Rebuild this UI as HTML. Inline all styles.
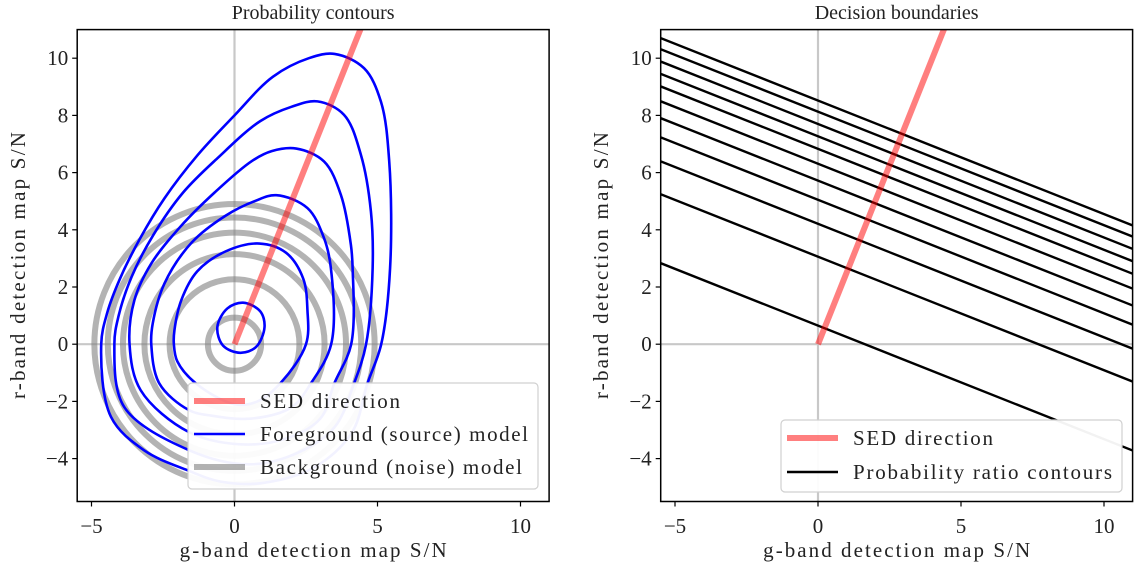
<!DOCTYPE html>
<html><head><meta charset="utf-8"><style>
html,body{margin:0;padding:0;background:#fff}
svg{display:block}
text{font-family:"Liberation Serif",serif;fill:#222}
</style></head><body>
<svg id="fig" width="1135" height="570" xmlns="http://www.w3.org/2000/svg">
<defs>
<clipPath id="clipL"><rect x="78" y="29" width="471" height="472"/></clipPath>
<clipPath id="clipR"><rect x="661" y="29" width="471" height="472"/></clipPath>
</defs>
<g id="left"></g>
<g id="right"></g>
</svg>
<script>
// ---- data ----
const xTicks = [-5, 0, 5, 10];
const yTicks = [-4, -2, 0, 2, 4, 6, 8, 10];
const sedDir = [1, 2.5];
const noiseRadii = [0.93, 2.27, 3.15, 3.9, 4.43, 4.9];
const fgContour1 = [[0.3,1.45],[0.9,1.15],[1.05,0.6],[0.75,-0.1],[0.2,-0.3],[-0.4,-0.05],[-0.6,0.6],[-0.25,1.25]];
const fgContour2 = [[0.87,3.52],[1.8,3.2],[2.4,2.3],[2.55,1.2],[2.5,0],[1.6,-1.37],[0.8,-2.0],[0,-2.1],[-1.35,-1.37],[-2.0,-0.6],[-2.12,0],[-2.1,0.49],[-1.86,1.54],[-1.3,2.55],[-0.3,3.25]];
const fgContour3 = [[1.46,5.21],[2.55,4.76],[3.13,3.71],[3.37,2.66],[3.38,0],[2.67,-1.37],[2.0,-2.2],[0.6,-2.6],[-0.8,-2.5],[-1.6,-2.3],[-2.63,-1.37],[-2.91,0],[-2.86,0.72],[-2.45,2.12],[-1.5,3.55],[-0.3,4.5],[0.7,5.0]];
const fgContour4 = [[2.16,6.84],[3.13,6.39],[3.72,5.22],[4.07,3.47],[4.13,2.66],[4.08,0],[3.49,-1.37],[3.0,-2.6],[1.8,-3.3],[0.2,-3.5],[-1.6,-3.07],[-3.28,-1.61],[-3.67,0],[-3.5,1.54],[-2.91,2.82],[-1.9,4.1],[-0.7,5.3],[0.6,6.4],[1.3,6.75]];
const fgContour5 = [[2.9,8.49],[3.83,8.02],[4.42,6.62],[4.77,4.64],[4.83,2.66],[4.6,0],[4.18,-1.37],[3.5,-2.9],[2.2,-3.8],[0.5,-4.2],[-1.6,-3.7],[-3.86,-2.19],[-4.2,0],[-4.05,1.0],[-3.6,2.35],[-2.85,3.8],[-1.8,5.3],[-0.6,6.5],[0.9,7.8],[1.99,8.3]];
const fgContour6 = [[3.5,10.15],[4.53,9.65],[5.12,8.48],[5.41,6.39],[5.44,2.66],[5.13,0],[4.65,-1.37],[4.1,-3.1],[2.8,-4.3],[1.0,-4.85],[-0.5,-4.8],[-1.64,-4.41],[-3.16,-3.71],[-4.32,-2.54],[-4.66,0],[-4.45,1.1],[-4.0,2.3],[-3.3,3.7],[-2.45,5.1],[-1.3,6.6],[0,8.0],[1.34,9.35],[2.6,10.0]];
const fgContours = [fgContour1, fgContour2, fgContour3, fgContour4, fgContour5, fgContour6];
const boundarySlope = -0.397;
const boundaryIntercepts = [8.52, 8.13, 7.70, 7.27, 6.83, 6.31, 5.72, 5.05, 4.21, 3.06, 0.65];

// ---- axes ----
const NS = 'http://www.w3.org/2000/svg';
const XMIN = -5.5, XMAX = 11, YMIN = -5.5, YMAX = 11, S = 28.6;
const panels = {
  left: {x0: 234.5, title: 'Probability contours', ylabX: 18},
  right: {x0: 818, title: 'Decision boundaries', ylabX: 601}
};
const Y0 = 344.2;
function sx(p, v) { return p.x0 + v * S; }
function sy(v) { return Y0 - v * S; }
function mk(tag, attrs, parent) {
  const e = document.createElementNS(NS, tag);
  for (const k in attrs) e.setAttribute(k, attrs[k]);
  parent.appendChild(e);
  return e;
}
// centripetal Catmull-Rom closed curve
function smoothClosed(p, pts) {
  const P = pts.map(q => [sx(p, q[0]), sy(q[1])]);
  const n = P.length;
  const dist = (a, b) => Math.max(1e-3, Math.pow(Math.hypot(b[0] - a[0], b[1] - a[1]), 0.5));
  let d = 'M' + P[0][0].toFixed(2) + ',' + P[0][1].toFixed(2);
  for (let i = 0; i < n; i++) {
    const p0 = P[(i - 1 + n) % n], p1 = P[i], p2 = P[(i + 1) % n], p3 = P[(i + 2) % n];
    const d1 = dist(p0, p1), d2 = dist(p1, p2), d3 = dist(p2, p3);
    const m1 = [0, 1].map(k => d2 * ((p1[k] - p0[k]) / d1 - (p2[k] - p0[k]) / (d1 + d2) + (p2[k] - p1[k]) / d2));
    const m2 = [0, 1].map(k => d2 * ((p2[k] - p1[k]) / d2 - (p3[k] - p1[k]) / (d2 + d3) + (p3[k] - p2[k]) / d3));
    const a = [p1[0] + m1[0] / 3, p1[1] + m1[1] / 3];
    const b = [p2[0] - m2[0] / 3, p2[1] - m2[1] / 3];
    d += 'C' + a.map(v => v.toFixed(2)).join(',') + ' ' + b.map(v => v.toFixed(2)).join(',') + ' ' + p2.map(v => v.toFixed(2)).join(',');
  }
  return d + 'Z';
}
function fmt(v) { return v < 0 ? '\u2212' + Math.abs(v) : String(v); }

function drawFrame(p, g) {
  const L = sx(p, XMIN), R = sx(p, XMAX), T = sy(YMAX), B = sy(YMIN);
  const t = mk('text', {x: (L + R) / 2, y: 19, 'text-anchor': 'middle', 'font-size': 20}, g);
  t.textContent = p.title;
  
  
  xTicks.forEach(v => {
    const x = sx(p, v);
    mk('line', {x1: x, x2: x, y1: B, y2: B + 5, stroke: '#000', 'stroke-width': 1.2}, g);
    const tl = mk('text', {x: x, y: 533, 'text-anchor': 'middle', 'font-size': 21}, g);
    tl.textContent = fmt(v);
    
    
  });
  yTicks.forEach(v => {
    const y = sy(v);
    mk('line', {x1: L - 5, x2: L, y1: y, y2: y, stroke: '#000', 'stroke-width': 1.2}, g);
    const tl = mk('text', {x: L - 9, y: y + 7, 'text-anchor': 'end', 'font-size': 21}, g);
    tl.textContent = fmt(v);
    
    
  });
  const xl = mk('text', {x: (L + R) / 2, y: 557, 'text-anchor': 'middle', 'font-size': 21, textLength: 267}, g);
  xl.textContent = 'g-band detection map S/N';
  
  
  const yl = mk('text', {x: 0, y: 0, 'text-anchor': 'middle', 'font-size': 21, textLength: 267,
    transform: 'translate(' + (p.ylabX + 7) + ',' + ((T + B) / 2) + ') rotate(-90)'}, g);
  yl.textContent = 'r-band detection map S/N';
  
  
}
function drawSpines(p, g) {
  const L = sx(p, XMIN), R = sx(p, XMAX), T = sy(YMAX), B = sy(YMIN);
  const r = mk('rect', {x: L, y: T, width: R - L, height: B - T, fill: 'none', stroke: '#000', 'stroke-width': 1.5}, g);
  
  
}
function drawZeroLines(p, c) {
  mk('line', {x1: sx(p, 0), x2: sx(p, 0), y1: sy(YMIN), y2: sy(YMAX), stroke: '#c8c8c8', 'stroke-width': 2.2}, c);
  mk('line', {x1: sx(p, XMIN), x2: sx(p, XMAX), y1: sy(0), y2: sy(0), stroke: '#c8c8c8', 'stroke-width': 2.2}, c);
}
function drawSed(p, c) {
  const k = YMAX / sedDir[1];
  const l = mk('line', {x1: sx(p, 0), y1: sy(0), x2: sx(p, sedDir[0] * k * 1.05), y2: sy(sedDir[1] * k * 1.05),
    stroke: '#ff0000', 'stroke-opacity': 0.5, 'stroke-width': 6}, c);
  
  
}
function legend(g, x, y, w, h, entries) {
  const lg = mk('g', {}, g);
  
  
  mk('rect', {x: x, y: y, width: w, height: h, rx: 4, fill: '#fff', 'fill-opacity': 0.95, stroke: '#d0d0d0', 'stroke-width': 1.2}, lg);
  entries.forEach((e, i) => {
    const cy = y + 18 + i * e.step;
    mk('line', {x1: x + 6, x2: x + 57, y1: cy, y2: cy, stroke: e.color, 'stroke-opacity': e.op, 'stroke-width': e.w}, lg);
    const t = mk('text', {x: x + 72, y: cy + 7, 'font-size': 21, textLength: e.len}, lg);
    t.textContent = e.label;
    
    
  });
}

// ---- left panel ----
(function () {
  const p = panels.left, g = document.getElementById('left');
  drawFrame(p, g);
  const c = mk('g', {'clip-path': 'url(#clipL)'}, g);
  drawZeroLines(p, c);
  noiseRadii.forEach(r => {
    const e = mk('circle', {cx: sx(p, 0), cy: sy(0), r: r * S, fill: 'none', stroke: '#808080', 'stroke-opacity': 0.6, 'stroke-width': 6}, c);
    
    
  });
  fgContours.forEach(pts => {
    const e = mk('path', {d: smoothClosed(p, pts), fill: 'none', stroke: '#0000ff', 'stroke-width': 2.6}, c);
    
    
  });
  drawSed(p, c);
  legend(g, 188, 383, 350, 106, [
    {label: 'SED direction', color: '#ff0000', op: 0.5, w: 6, len: 140, step: 33},
    {label: 'Foreground (source) model', color: '#0000ff', op: 1, w: 2.6, len: 268, step: 33},
    {label: 'Background (noise) model', color: '#808080', op: 0.6, w: 6, len: 262, step: 33}
  ]);
  drawSpines(p, g);
})();

// ---- right panel ----
(function () {
  const p = panels.right, g = document.getElementById('right');
  drawFrame(p, g);
  const c = mk('g', {'clip-path': 'url(#clipR)'}, g);
  drawZeroLines(p, c);
  boundaryIntercepts.forEach(b => {
    const e = mk('line', {x1: sx(p, XMIN), y1: sy(b + boundarySlope * XMIN), x2: sx(p, XMAX), y2: sy(b + boundarySlope * XMAX),
      stroke: '#000', 'stroke-width': 2.4}, c);
    
    
  });
  drawSed(p, c);
  legend(g, 781, 420, 341, 72, [
    {label: 'SED direction', color: '#ff0000', op: 0.5, w: 6, len: 140, step: 34},
    {label: 'Probability ratio contours', color: '#000', op: 1, w: 2.6, len: 259, step: 34}
  ]);
  drawSpines(p, g);
})();
</script>
</body></html>
